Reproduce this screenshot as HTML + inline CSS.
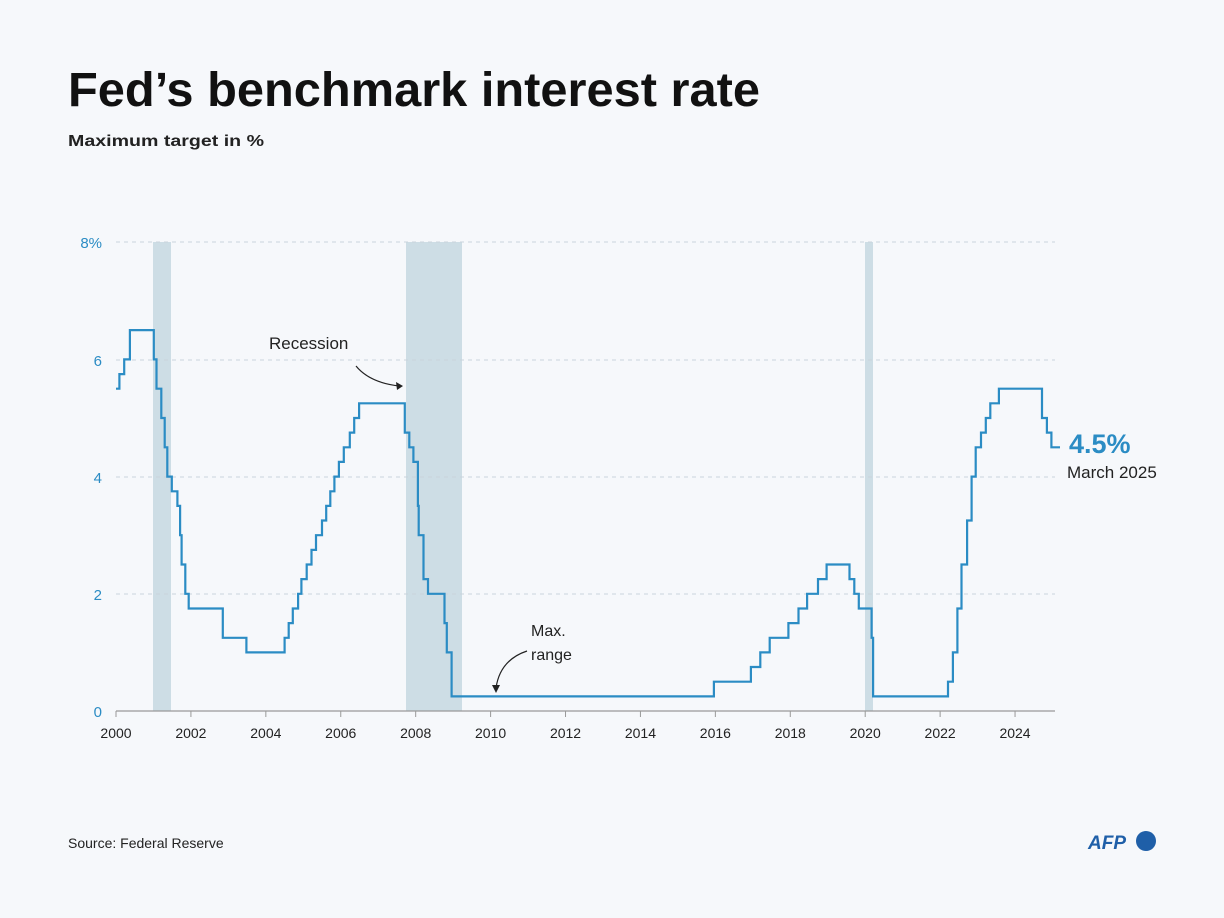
<!DOCTYPE html>
<html><head><meta charset="utf-8"><style>
body{margin:0;background:#f6f8fb;}
svg{display:block}
text{font-family:"Liberation Sans",sans-serif}
</style></head><body>
<svg id="s" width="1224" height="918" xmlns="http://www.w3.org/2000/svg">
<rect width="1224" height="918" fill="#f6f8fb"/>
<text x="68" y="106" font-size="48" font-weight="bold" fill="#111" textLength="692" lengthAdjust="spacingAndGlyphs">Fed’s benchmark interest rate</text>
<text x="68" y="146" font-size="16" font-weight="bold" fill="#222" textLength="196" lengthAdjust="spacingAndGlyphs">Maximum target in %</text>
<g fill="#cddde5">
<rect x="153" y="242" width="18" height="469"/>
<rect x="406" y="242" width="56" height="469"/>
<rect x="865" y="242" width="8" height="469"/>
</g>
<g stroke="#c9d3dc" stroke-dasharray="4,4" stroke-width="1">
<line x1="116" x2="1055" y1="242" y2="242"/>
<line x1="116" x2="1055" y1="360" y2="360"/>
<line x1="116" x2="1055" y1="477" y2="477"/>
<line x1="116" x2="1055" y1="594" y2="594"/>
</g>
<line x1="116" x2="1055" y1="711" y2="711" stroke="#999" stroke-width="1.2"/>
<g font-size="15" fill="#2b8cc4" text-anchor="end">
<text x="102" y="248">8%</text><text x="102" y="366">6</text><text x="102" y="483">4</text><text x="102" y="600">2</text><text x="102" y="717">0</text>
</g>
<g id="xt" font-size="14" fill="#222" text-anchor="middle" stroke="#999"></g>
<path id="p" fill="none" stroke="#2b8cc4" stroke-width="2.2"/>
<text x="269" y="349" font-size="17" fill="#222">Recession</text>
<path d="M356,366 Q370,383 400,386" fill="none" stroke="#222" stroke-width="1.2"/>
<path d="M403,386 l-7,-4 l1,8z" fill="#222"/>
<text x="531" y="636" font-size="16" fill="#222">Max.</text>
<text x="531" y="660" font-size="16" fill="#222">range</text>
<path d="M527,651 Q500,660 496,688" fill="none" stroke="#222" stroke-width="1.2"/>
<path d="M496,693 l-4,-8 l8,0z" fill="#222"/>
<text x="1069" y="453" font-size="27" font-weight="bold" fill="#2b8cc4">4.5%</text>
<text x="1067" y="478" font-size="17" fill="#222">March 2025</text>
<text x="68" y="848" font-size="14" fill="#222">Source: Federal Reserve</text>
<text x="1088" y="849" font-size="19" font-weight="bold" font-style="italic" fill="#1f5fa8">AFP</text>
<circle cx="1146" cy="841" r="10" fill="#1f5fa8"/>
</svg>
<script>
var X=function(t){return 116+(t-2000)*37.46},Y=function(v){return 711-v*58.6};
var d=[[2000,5.5],[2000.09,5.75],[2000.22,6],[2000.37,6.5],[2001.01,6],[2001.08,5.5],[2001.21,5],[2001.3,4.5],[2001.37,4],[2001.49,3.75],[2001.64,3.5],[2001.71,3],[2001.75,2.5],[2001.85,2],[2001.94,1.75],[2002.85,1.25],[2003.48,1],[2004.5,1.25],[2004.61,1.5],[2004.72,1.75],[2004.86,2],[2004.95,2.25],[2005.09,2.5],[2005.22,2.75],[2005.34,3],[2005.5,3.25],[2005.61,3.5],[2005.72,3.75],[2005.83,4],[2005.95,4.25],[2006.08,4.5],[2006.24,4.75],[2006.36,5],[2006.49,5.25],[2007.71,4.75],[2007.83,4.5],[2007.94,4.25],[2008.06,3.5],[2008.08,3],[2008.21,2.25],[2008.33,2],[2008.77,1.5],[2008.83,1],[2008.96,0.25],[2015.96,0.5],[2016.95,0.75],[2017.2,1],[2017.45,1.25],[2017.95,1.5],[2018.22,1.75],[2018.45,2],[2018.74,2.25],[2018.97,2.5],[2019.58,2.25],[2019.71,2],[2019.83,1.75],[2020.17,1.25],[2020.21,0.25],[2022.21,0.5],[2022.34,1],[2022.46,1.75],[2022.57,2.5],[2022.72,3.25],[2022.84,4],[2022.95,4.5],[2023.09,4.75],[2023.22,5],[2023.34,5.25],[2023.57,5.5],[2024.72,5],[2024.85,4.75],[2024.97,4.5],[2025.2,4.5]];
var s="M"+X(d[0][0])+","+Y(d[0][1]);
for(var i=1;i<d.length;i++){s+="H"+X(d[i][0]).toFixed(1)+"V"+Y(d[i][1]).toFixed(1);}
document.getElementById("p").setAttribute("d",s);
var g=document.getElementById("xt"),h="";
for(var y=2000;y<=2024;y+=2){var x=X(y);h+='<line x1="'+x+'" x2="'+x+'" y1="711" y2="717"/><text x="'+x+'" y="738" stroke="none">'+y+'</text>';}
g.innerHTML=h;
</script>
</body></html>
